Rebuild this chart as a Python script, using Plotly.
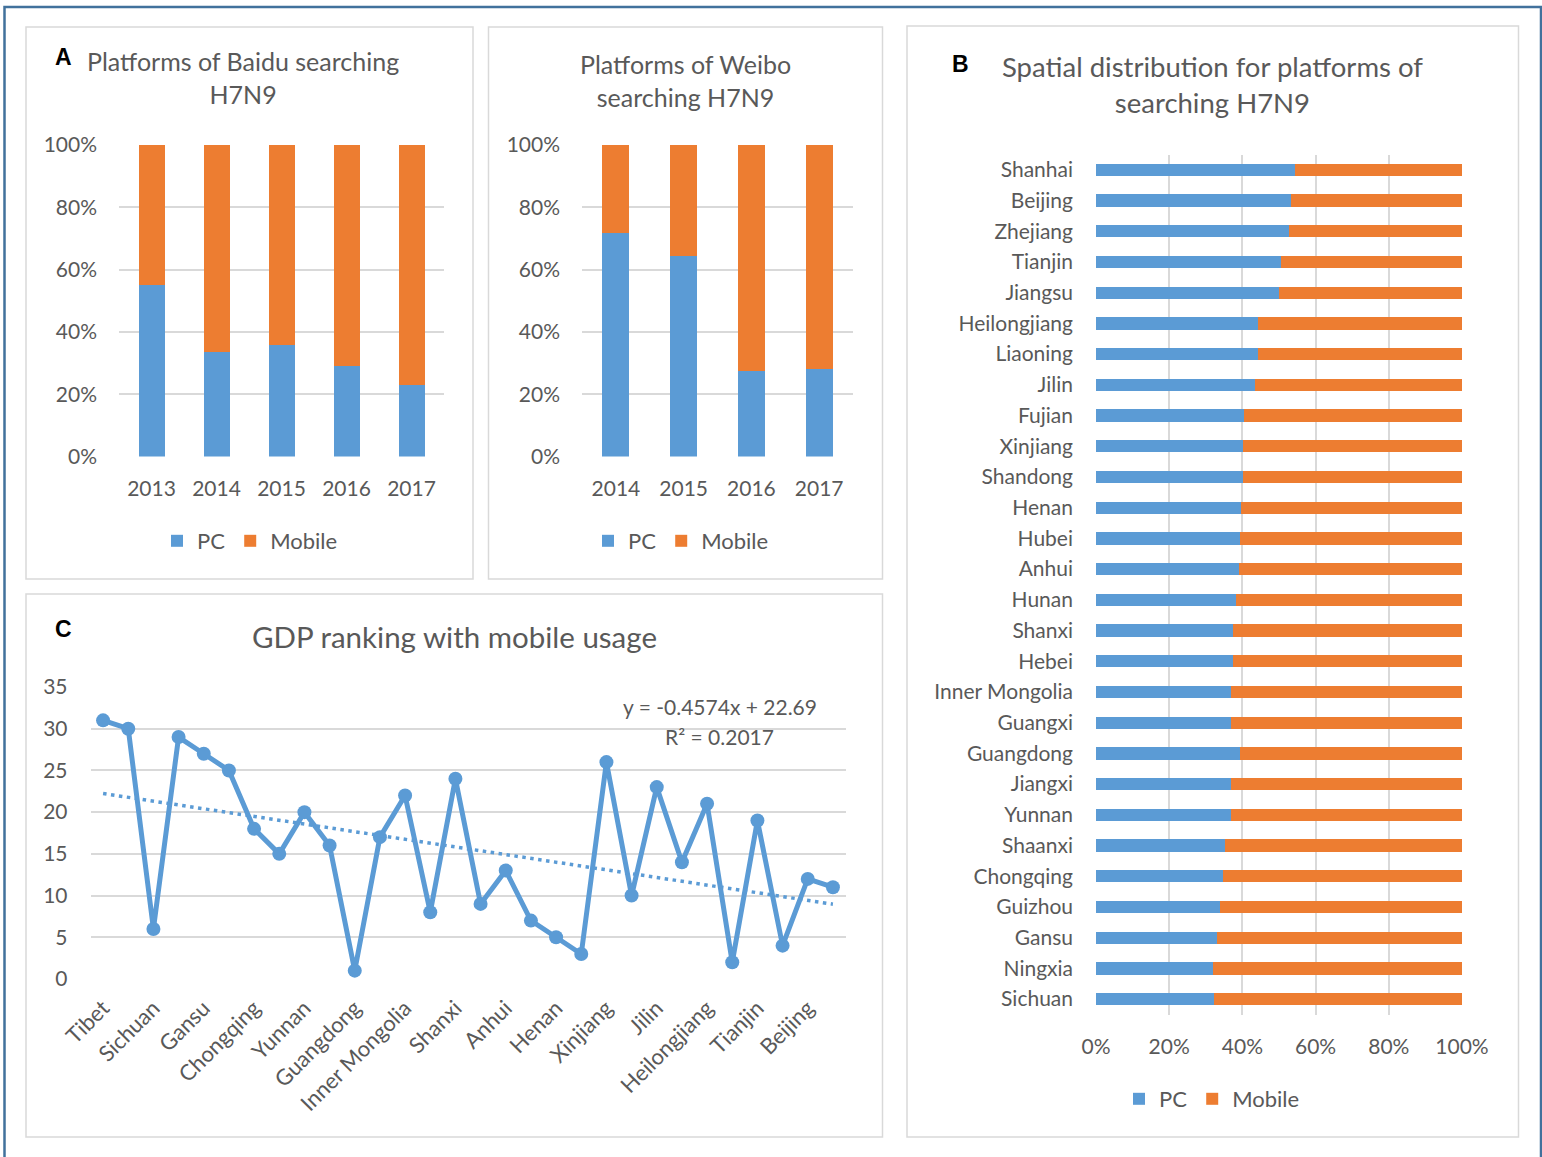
import numpy as np
import plotly.graph_objects as go

W, H = 1542, 1157
BLUE = "#5B9BD5"
ORANGE = "#ED7D31"
GRID = "#D9D9D9"
TXT = "#595959"
FONT = "Lato"

# ---- Panel A: Baidu ----
baidu_years = ["2013", "2014", "2015", "2016", "2017"]
baidu_pc = [55.0, 33.4, 35.9, 28.9, 22.9]
baidu_mobile = [45.0, 66.6, 64.1, 71.1, 77.1]

# ---- Panel A: Weibo ----
weibo_years = ["2014", "2015", "2016", "2017"]
weibo_pc = [71.8, 64.3, 27.3, 28.1]
weibo_mobile = [28.2, 35.7, 72.7, 71.9]

# ---- Panel B: provinces (top to bottom) ----
prov_b = ["Shanhai", "Beijing", "Zhejiang", "Tianjin", "Jiangsu", "Heilongjiang",
          "Liaoning", "Jilin", "Fujian", "Xinjiang", "Shandong", "Henan", "Hubei",
          "Anhui", "Hunan", "Shanxi", "Hebei", "Inner Mongolia", "Guangxi",
          "Guangdong", "Jiangxi", "Yunnan", "Shaanxi", "Chongqing", "Guizhou",
          "Gansu", "Ningxia", "Sichuan"]
prov_b_pc = [54.5, 53.4, 52.8, 50.6, 50.0, 44.3, 44.2, 43.5, 40.4, 40.2, 40.2,
             39.7, 39.4, 39.2, 38.3, 37.5, 37.5, 37.0, 37.0, 39.3, 36.8, 36.8,
             35.3, 34.7, 33.8, 33.1, 32.0, 32.3]
prov_b_mobile = [45.5, 46.6, 47.2, 49.4, 50.0, 55.7, 55.8, 56.5, 59.6, 59.8, 59.8,
                 60.3, 60.6, 60.8, 61.7, 62.5, 62.5, 63.0, 63.0, 60.7, 63.2, 63.2,
                 64.7, 65.3, 66.2, 66.9, 68.0, 67.7]

# ---- Panel C: GDP ranking ordered by mobile usage ----
prov_c = ["Tibet", "Qinghai", "Sichuan", "Ningxia", "Gansu", "Guizhou", "Chongqing",
          "Shaanxi", "Yunnan", "Jiangxi", "Guangdong", "Guangxi", "Inner Mongolia",
          "Hebei", "Shanxi", "Hunan", "Anhui", "Hubei", "Henan", "Shandong",
          "Xinjiang", "Fujian", "Jilin", "Liaoning", "Heilongjiang", "Jiangsu",
          "Tianjin", "Zhejiang", "Beijing", "Shanghai"]
gdp_rank = [31, 30, 6, 29, 27, 25, 18, 15, 20, 16, 1, 17, 22, 8, 24, 9, 13, 7, 5, 3,
            26, 10, 23, 14, 21, 2, 19, 4, 12, 11]
prov_c_ticks = prov_c[::2]

# linear trend fitted to the data
xi = np.arange(1, len(gdp_rank) + 1)
slope, intercept = np.polyfit(xi, gdp_rank, 1)
trend = slope * xi + intercept


def fx(p):
    return p / W


def fy(p):
    return 1 - p / H


fig = go.Figure()

# A1
fig.add_bar(x=baidu_years, y=baidu_pc, name="PC", marker_color=BLUE,
            xaxis="x", yaxis="y", legend="legend")
fig.add_bar(x=baidu_years, y=baidu_mobile, name="Mobile", marker_color=ORANGE,
            xaxis="x", yaxis="y", legend="legend")
# A2
fig.add_bar(x=weibo_years, y=weibo_pc, name="PC", marker_color=BLUE,
            xaxis="x2", yaxis="y2", legend="legend2")
fig.add_bar(x=weibo_years, y=weibo_mobile, name="Mobile", marker_color=ORANGE,
            xaxis="x2", yaxis="y2", legend="legend2")
# B
fig.add_bar(y=prov_b, x=prov_b_pc, orientation="h", name="PC", marker_color=BLUE,
            xaxis="x3", yaxis="y3", legend="legend3")
fig.add_bar(y=prov_b, x=prov_b_mobile, orientation="h", name="Mobile",
            marker_color=ORANGE, xaxis="x3", yaxis="y3", legend="legend3")
# C
fig.add_scatter(x=prov_c, y=gdp_rank, mode="lines+markers",
                line=dict(color=BLUE, width=5), marker=dict(size=14, color=BLUE),
                xaxis="x4", yaxis="y4", showlegend=False)
fig.add_scatter(x=prov_c, y=trend, mode="lines",
                line=dict(color=BLUE, width=3.5, dash="3.5px,4.5px"),
                xaxis="x4", yaxis="y4", showlegend=False)

tickfont = dict(family=FONT, size=21, color=TXT)
legfont = dict(family=FONT, size=22, color=TXT)

pct_axis = dict(range=[0, 100], tick0=0, dtick=20, ticksuffix="%", showgrid=True,
                gridcolor=GRID, gridwidth=1.5, zeroline=False, showline=False,
                ticks="", tickfont=tickfont, fixedrange=True, automargin=False)
cat_axis = dict(type="category", showgrid=False, zeroline=False, showline=False,
                ticks="", tickfont=tickfont, fixedrange=True, automargin=False)

fig.update_layout(
    template="none",
    width=W, height=H, margin=dict(l=0, r=0, t=0, b=0, pad=0, autoexpand=False),
    paper_bgcolor="white", plot_bgcolor="rgba(0,0,0,0)",
    font=dict(family=FONT, size=21, color=TXT),
    barmode="stack", bargap=0.6,
    xaxis=dict(cat_axis, domain=[fx(119), fx(444)], anchor="y", ticklabelstandoff=17),
    yaxis=dict(pct_axis, domain=[fy(456.5), fy(145)], anchor="x", ticklabelstandoff=21),
    xaxis2=dict(cat_axis, domain=[fx(582), fx(853)], anchor="y2", ticklabelstandoff=17),
    yaxis2=dict(pct_axis, domain=[fy(456.5), fy(145)], anchor="x2", ticklabelstandoff=21),
    xaxis3=dict(pct_axis, domain=[fx(1096), fx(1462)], anchor="y3", ticklabelstandoff=17),
    yaxis3=dict(cat_axis, domain=[fy(1014.5), fy(154.5)], anchor="x3",
                autorange="reversed", ticklabelstandoff=22),
    xaxis4=dict(cat_axis, domain=[fx(90.5), fx(845.5)], anchor="y4",
                range=[-0.5, len(prov_c) - 0.5], tickvals=prov_c_ticks,
                tickangle=-45, ticklabelstandoff=11,
                tickfont=dict(family=FONT, size=22, color=TXT)),
    yaxis4=dict(range=[0, 35], tick0=0, dtick=5, showgrid=True, gridcolor=GRID,
                gridwidth=1.5, zeroline=False, showline=False, ticks="",
                tickfont=tickfont, domain=[fy(979), fy(687)], anchor="x4",
                ticklabelstandoff=22, fixedrange=True, automargin=False),
    legend=dict(orientation="h", x=fx(250), y=fy(541), xanchor="center",
                yanchor="middle", traceorder="normal", font=legfont,
                bgcolor="rgba(0,0,0,0)"),
    legend2=dict(orientation="h", x=fx(681), y=fy(541), xanchor="center",
                 yanchor="middle", traceorder="normal", font=legfont,
                 bgcolor="rgba(0,0,0,0)"),
    legend3=dict(orientation="h", x=fx(1212), y=fy(1099), xanchor="center",
                 yanchor="middle", traceorder="normal", font=legfont,
                 bgcolor="rgba(0,0,0,0)"),
    hovermode=False,
)

# frames
shapes = []
frame_style = dict(type="rect", xref="paper", yref="paper",
                   line=dict(color=GRID, width=1.5), fillcolor="rgba(0,0,0,0)",
                   layer="below")
for (x0, y0, x1, y1) in [(26, 27, 473, 579), (488.5, 27, 882.5, 579),
                          (907, 26, 1518.5, 1137), (26, 594, 882.5, 1137)]:
    shapes.append(dict(frame_style, x0=fx(x0), x1=fx(x1), y0=fy(y0), y1=fy(y1)))
shapes.append(dict(type="rect", xref="paper", yref="paper", x0=fx(4.5), x1=fx(1541),
                   y0=fy(7), y1=fy(1170), line=dict(color="#41719C", width=2.5),
                   fillcolor="rgba(0,0,0,0)", layer="below"))
fig.update_layout(shapes=shapes)

ann = []


def add_text(x, y, text, size, color=TXT, family=FONT, bold=False):
    if bold:
        text = "<b>" + text + "</b>"
    ann.append(dict(x=fx(x), y=fy(y), xref="paper", yref="paper", text=text,
                    showarrow=False, xanchor="center", yanchor="middle",
                    align="center", font=dict(family=family, size=size, color=color)))


add_text(243, 78, "Platforms of Baidu searching<br>H7N9", 25)
add_text(685, 81, "Platforms of Weibo<br>searching H7N9", 25)
add_text(1212, 84, "Spatial distribution for platforms of<br>searching H7N9", 27.5)
add_text(454, 636, "GDP ranking with mobile usage", 29.5)
add_text(719.5, 706, "y = %.4fx + %.2f" % (slope, intercept), 21)
add_text(719.5, 736, "R² = 0.2017", 21)
add_text(63, 57, "A", 23, color="black", family="Liberation Sans", bold=True)
add_text(960, 64, "B", 23, color="black", family="Liberation Sans", bold=True)
add_text(63, 629, "C", 23, color="black", family="Liberation Sans", bold=True)
fig.update_layout(annotations=ann)

fig.write_html("out.html")
